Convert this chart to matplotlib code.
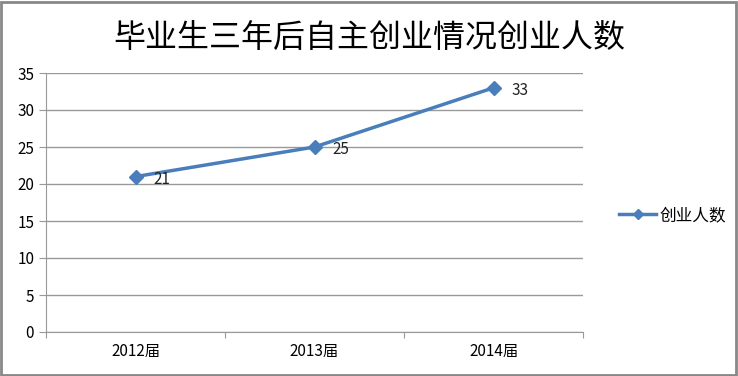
import matplotlib.pyplot as plt
from matplotlib.patches import Rectangle

plt.rcParams['font.family'] = ['Noto Sans CJK SC', 'DejaVu Sans']

# data
categories = ['2012届', '2013届', '2014届']
founders = [21, 25, 33]
yticks = [0, 5, 10, 15, 20, 25, 30, 35]

fig = plt.figure(figsize=(7.38, 3.76), dpi=100)
ax = fig.add_axes([46/738, 44/376, (583-46)/738, (332-73)/376])

x = [0.5, 1.5, 2.5]
color = '#4a7ebb'
ax.plot(x, founders, color=color, lw=2.5, marker='D', ms=7,
        label='创业人数')
for xi, v in zip(x, founders):
    ax.annotate(str(v), (xi, v), xytext=(13, -2), textcoords='offset points',
                fontsize=11, va='center', ha='left', color='#222222')

ax.set_xlim(0, 3)
ax.set_ylim(0, 35)
ax.set_yticks(yticks)
ax.set_xticks([0, 1, 2, 3])
ax.set_xticklabels([])
ax.set_xticks(x, minor=True)
ax.set_xticklabels(categories, minor=True, fontsize=11)
ax.tick_params(axis='x', which='minor', length=0, pad=8)
ax.tick_params(axis='x', which='major', length=4, color='#999999', direction='out')
ax.tick_params(axis='y', length=5, color='#999999', labelsize=11)
ax.grid(axis='y', color='#999999', lw=1)
ax.set_axisbelow(True)
for s in ['top', 'right']:
    ax.spines[s].set_visible(False)
for s in ['left', 'bottom']:
    ax.spines[s].set_color('#999999')

fig.text(0.5, 0.898, '毕业生三年后自主创业情况创业人数', ha='center', va='center',
         fontsize=23)
ax.legend(loc='center left', bbox_to_anchor=(1.04, 0.45), frameon=False,
          fontsize=12, handlelength=2.2, handletextpad=0.2, markerscale=0.8)

fig.patches.append(Rectangle((0.002, 0.003), 0.995, 0.993, transform=fig.transFigure,
                             fill=False, edgecolor='#888888', lw=2))
fig.savefig('out.png', dpi=100)
